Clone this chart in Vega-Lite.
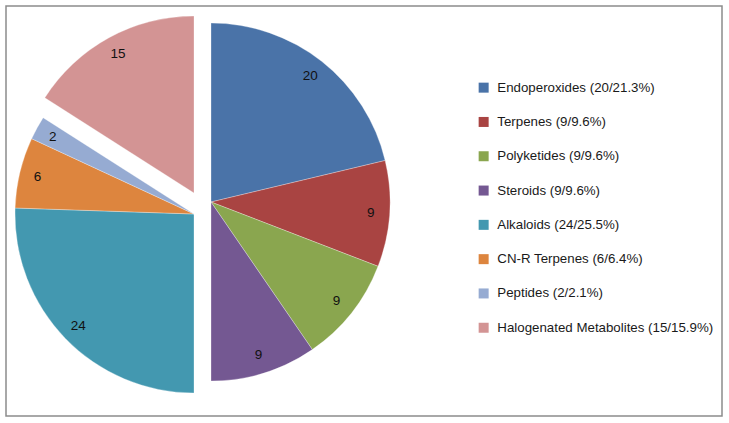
{
  "$schema": "https://vega.github.io/schema/vega-lite/v6.json",
  "width": 729,
  "height": 423,
  "autosize": {"type": "fit", "contains": "padding"},
  "padding": {"left": 5, "top": 5, "right": 6, "bottom": 6},
  "background": "white",
  "config": {"view": {"stroke": null}},
  "layer": [
    {
      "data": {"values": [{"frame": "box"}]},
      "mark": {"type": "rect", "fill": null, "stroke": "#8c8c8c", "strokeWidth": 1.5},
      "encoding": {}
    },
    {
      "data": {
        "values": [
          {"name": "Endoperoxides (20/21.3%)", "value": 20},
          {"name": "Terpenes (9/9.6%)", "value": 9},
          {"name": "Polyketides (9/9.6%)", "value": 9},
          {"name": "Steroids (9/9.6%)", "value": 9},
          {"name": "Alkaloids (24/25.5%)", "value": 24},
          {"name": "CN-R Terpenes (6/6.4%)", "value": 6},
          {"name": "Peptides (2/2.1%)", "value": 2},
          {"name": "Halogenated Metabolites (15/15.9%)", "value": 15}
        ]
      },
      "transform": [{"stack": "value", "groupby": [], "as": ["v0", "v1"]}],
      "encoding": {
        "color": {
          "field": "name",
          "type": "nominal",
          "sort": null,
          "scale": {
            "domain": ["Endoperoxides (20/21.3%)", "Terpenes (9/9.6%)", "Polyketides (9/9.6%)", "Steroids (9/9.6%)", "Alkaloids (24/25.5%)", "CN-R Terpenes (6/6.4%)", "Peptides (2/2.1%)", "Halogenated Metabolites (15/15.9%)"],
            "range": ["#4a73a8", "#a94442", "#8aa64f", "#745892", "#4398b0", "#dd853e", "#96abd2", "#d39494"]
          },
          "legend": {
            "title": null,
            "orient": "none",
            "legendX": 471,
            "legendY": 75,
            "padding": 0,
            "symbolType": "square",
            "symbolSize": 100,
            "symbolStrokeWidth": 0,
            "labelFont": "Liberation Sans",
            "labelFontSize": 13.3,
            "labelColor": "#1a1a1a",
            "labelOffset": 7,
            "labelLimit": 300,
            "rowPadding": 20.3
          }
        }
      },
      "layer": [
        {
          "transform": [{"filter": {"field": "name", "oneOf": ["Endoperoxides (20/21.3%)", "Terpenes (9/9.6%)", "Polyketides (9/9.6%)", "Steroids (9/9.6%)"]}}],
          "mark": {"type": "arc", "x": 205, "y": 196, "outerRadius": 179, "stroke": "white", "strokeWidth": 0.3},
          "encoding": {
            "theta": {"field": "v0", "type": "quantitative", "scale": {"domain": [0, 94]}},
            "theta2": {"field": "v1"}
          }
        },
        {
          "transform": [{"filter": {"field": "name", "oneOf": ["Alkaloids (24/25.5%)", "CN-R Terpenes (6/6.4%)", "Peptides (2/2.1%)"]}}],
          "mark": {"type": "arc", "x": 188, "y": 208, "outerRadius": 179, "stroke": "white", "strokeWidth": 0.3},
          "encoding": {
            "theta": {"field": "v0", "type": "quantitative", "scale": {"domain": [0, 94]}},
            "theta2": {"field": "v1"}
          }
        },
        {
          "transform": [{"filter": {"field": "name", "oneOf": ["Halogenated Metabolites (15/15.9%)"]}}],
          "mark": {"type": "arc", "x": 188, "y": 187, "outerRadius": 177, "stroke": "white", "strokeWidth": 0.3},
          "encoding": {
            "theta": {"field": "v0", "type": "quantitative", "scale": {"domain": [0, 94]}},
            "theta2": {"field": "v1"}
          }
        },
        {
          "mark": {"type": "text", "x": 205, "y": 196, "radius": 160, "font": "Liberation Sans", "fontSize": 13.5},
          "encoding": {
            "theta": {"field": "value", "type": "quantitative", "stack": true, "scale": {"domain": [0, 94]}},
            "order": {"field": "v0", "type": "quantitative"},
            "text": {"field": "value", "type": "quantitative"},
            "color": {"value": "#111111"},
            "opacity": {"condition": {"test": {"field": "name", "oneOf": ["Endoperoxides (20/21.3%)", "Terpenes (9/9.6%)", "Polyketides (9/9.6%)", "Steroids (9/9.6%)"]}, "value": 1}, "value": 0}
          }
        },
        {
          "mark": {"type": "text", "x": 188, "y": 208, "radius": 161, "font": "Liberation Sans", "fontSize": 13.5},
          "encoding": {
            "theta": {"field": "value", "type": "quantitative", "stack": true, "scale": {"domain": [0, 94]}},
            "order": {"field": "v0", "type": "quantitative"},
            "text": {"field": "value", "type": "quantitative"},
            "color": {"value": "#111111"},
            "opacity": {"condition": {"test": {"field": "name", "oneOf": ["Alkaloids (24/25.5%)", "CN-R Terpenes (6/6.4%)", "Peptides (2/2.1%)"]}, "value": 1}, "value": 0}
          }
        },
        {
          "mark": {"type": "text", "x": 188, "y": 187, "radius": 158, "font": "Liberation Sans", "fontSize": 13.5},
          "encoding": {
            "theta": {"field": "value", "type": "quantitative", "stack": true, "scale": {"domain": [0, 94]}},
            "order": {"field": "v0", "type": "quantitative"},
            "text": {"field": "value", "type": "quantitative"},
            "color": {"value": "#111111"},
            "opacity": {"condition": {"test": {"field": "name", "oneOf": ["Halogenated Metabolites (15/15.9%)"]}, "value": 1}, "value": 0}
          }
        }
      ]
    }
  ]
}
